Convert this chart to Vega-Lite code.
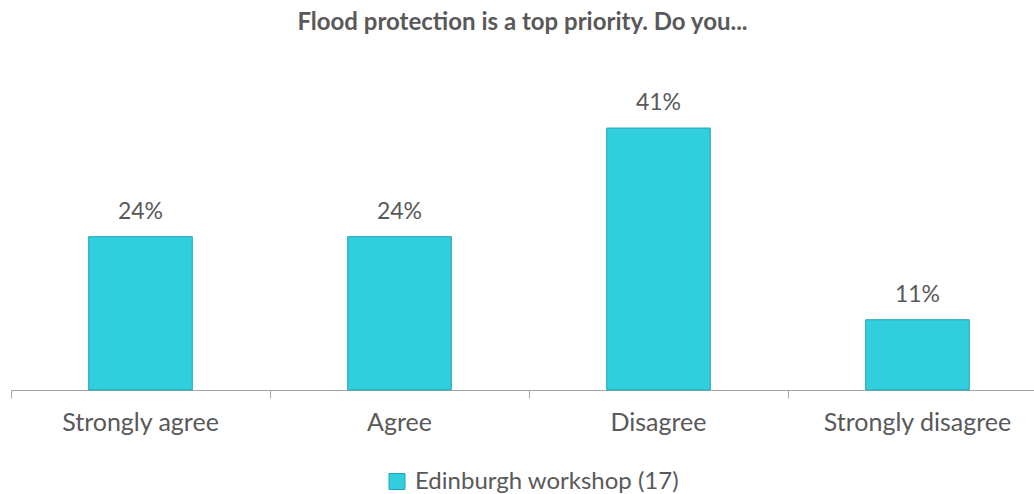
{
  "$schema": "https://vega.github.io/schema/vega-lite/v6.json",
  "autosize": {"type": "none"},
  "width": 1023,
  "height": 287.5,
  "padding": {"left": 11, "top": 102.5, "right": 0, "bottom": 104},
  "background": "white",
  "config": {"view": {"stroke": null}, "font": "Lato", "axis": {"ticks": true}},
  "title": {
    "text": "Flood protection is a top priority. Do you...",
    "font": "Lato",
    "fontSize": 24,
    "fontWeight": "bold",
    "color": "#595959",
    "anchor": "middle",
    "baseline": "alphabetic",
    "offset": 38
  },
  "data": {
    "values": [
      {"answer": "Strongly agree", "share": 0.24, "series": "Edinburgh workshop (17)"},
      {"answer": "Agree", "share": 0.24, "series": "Edinburgh workshop (17)"},
      {"answer": "Disagree", "share": 0.41, "series": "Edinburgh workshop (17)"},
      {"answer": "Strongly disagree", "share": 0.11, "series": "Edinburgh workshop (17)"}
    ]
  },
  "encoding": {
    "x": {
      "field": "answer",
      "type": "nominal",
      "sort": null,
      "scale": {"range": [0, 1036], "paddingInner": 0, "paddingOuter": 0},
      "axis": {
        "title": null,
        "labelAngle": 0,
        "labelFont": "Lato",
        "labelFontSize": 25,
        "labelColor": "#595959",
        "labelBaseline": "alphabetic",
        "labelPadding": 32,
        "labelLimit": 0,
        "domainColor": "#A6A6A6",
        "ticks": true,
        "bandPosition": 0,
        "tickColor": "#A6A6A6",
        "tickWidth": 1,
        "tickSize": 8,
        "grid": false
      }
    },
    "y": {
      "field": "share",
      "type": "quantitative",
      "scale": {"domain": [0, 0.45]},
      "axis": null
    }
  },
  "layer": [
    {
      "mark": {"type": "bar", "width": {"band": 0.4}, "stroke": "#22A5B2", "strokeWidth": 1},
      "encoding": {
        "color": {
          "field": "series",
          "type": "nominal",
          "scale": {"range": ["#31CEDE"]},
          "legend": {
            "title": null,
            "orient": "none",
            "legendX": 374,
            "legendY": 367,
            "padding": 0,
            "symbolType": "square",
            "symbolSize": 256,
            "symbolStrokeColor": "#22A5B2",
            "symbolStrokeWidth": 1,
            "labelFont": "Lato",
            "labelFontSize": 24,
            "labelColor": "#595959",
            "labelOffset": 6,
            "labelLimit": 0
          }
        }
      }
    },
    {
      "mark": {"type": "text", "baseline": "alphabetic", "dy": -18, "font": "Lato", "fontSize": 23, "color": "#595959"},
      "encoding": {
        "text": {"field": "share", "type": "quantitative", "format": ".0%"}
      }
    }
  ]
}
